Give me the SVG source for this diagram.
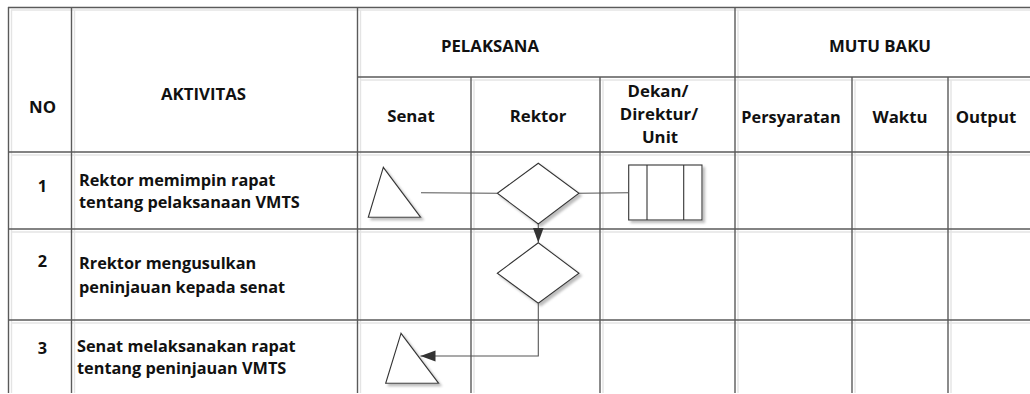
<svg xmlns="http://www.w3.org/2000/svg" width="1030" height="394" viewBox="0 0 1030 394">
<style>
.bg{fill:#ffffff}
.grid line{stroke:#5a5a5a;stroke-width:1.4}
.shade line{stroke:#e4e4e4;stroke-width:1.4}
.t{font-family:"Open Sans","Liberation Sans",sans-serif;font-weight:bold;font-size:16.3px;fill:#111}
.h{font-size:16.8px}
.c{text-anchor:middle}
.shape{fill:#ffffff;stroke:#333;stroke-width:1.1;filter:url(#sh)}
.inner{fill:none;stroke:#333;stroke-width:1.1}
.conn{fill:none;stroke:#555;stroke-width:1.1}
</style>
<defs>
<filter id="sh" x="-20%" y="-20%" width="150%" height="150%">
<feDropShadow dx="2.5" dy="2.5" stdDeviation="0.8" flood-color="#bdbdbd" flood-opacity="1"/>
</filter>
<marker id="ah" markerUnits="userSpaceOnUse" markerWidth="16" markerHeight="12" refX="15" refY="6" orient="auto">
<path d="M0,0.5 L15,6 L0,11.5 z" fill="#333"/>
</marker>
</defs>
<rect class="bg" x="0" y="0" width="1030" height="394"/>

<g id="table-shade" class="shade">
<line x1="11" y1="10" x2="1030" y2="10"/>
<line x1="360" y1="80" x2="1030" y2="80"/>
<line x1="11" y1="155" x2="1030" y2="155"/>
<line x1="11" y1="232" x2="1030" y2="232"/>
<line x1="11" y1="323" x2="1030" y2="323"/>
<line x1="11.5" y1="10" x2="11.5" y2="393"/>
<line x1="74.5" y1="10" x2="74.5" y2="393"/>
<line x1="360.5" y1="10" x2="360.5" y2="393"/>
<line x1="474" y1="80" x2="474" y2="393"/>
<line x1="603" y1="80" x2="603" y2="393"/>
<line x1="738" y1="10" x2="738" y2="393"/>
<line x1="855" y1="80" x2="855" y2="393"/>
<line x1="951" y1="80" x2="951" y2="393"/>
</g>

<g id="table-grid" class="grid">
<line x1="8" y1="7.5" x2="1030" y2="7.5"/>
<line x1="357.5" y1="77" x2="1030" y2="77"/>
<line x1="8" y1="152" x2="1030" y2="152"/>
<line x1="8" y1="229" x2="1030" y2="229"/>
<line x1="8" y1="320" x2="1030" y2="320"/>
<line x1="8.5" y1="7" x2="8.5" y2="393"/>
<line x1="71.5" y1="7" x2="71.5" y2="393"/>
<line x1="357.5" y1="7" x2="357.5" y2="393"/>
<line x1="471" y1="77" x2="471" y2="393"/>
<line x1="600" y1="77" x2="600" y2="393"/>
<line x1="735" y1="7" x2="735" y2="393"/>
<line x1="852" y1="77" x2="852" y2="393"/>
<line x1="948" y1="77" x2="948" y2="393"/>
</g>

<g id="headers">
<text class="t h c" x="42.5" y="113">NO</text>
<text class="t h c" x="203.5" y="100">AKTIVITAS</text>
<text class="t h c" x="490" y="52">PELAKSANA</text>
<text class="t h c" x="880" y="52">MUTU BAKU</text>
<text class="t h c" x="411" y="122">Senat</text>
<text class="t h c" x="538" y="122">Rektor</text>
<text class="t h c" x="658" y="97">Dekan/</text>
<text class="t h c" x="659" y="120">Direktur/</text>
<text class="t h c" x="660" y="143">Unit</text>
<text class="t c" x="791" y="123">Persyaratan</text>
<text class="t h c" x="900" y="123">Waktu</text>
<text class="t h c" x="986" y="123">Output</text>
</g>

<g id="rows">
<text class="t c" x="42.5" y="192">1</text>
<text class="t" x="79" y="186">Rektor memimpin rapat</text>
<text class="t" x="79" y="208">tentang pelaksanaan VMTS</text>
<text class="t c" x="42.5" y="267">2</text>
<text class="t" x="79" y="269">Rrektor mengusulkan</text>
<text class="t" x="79" y="293">peninjauan kepada senat</text>
<text class="t c" x="42.5" y="354">3</text>
<text class="t" x="77" y="352">Senat melaksanakan rapat</text>
<text class="t" x="77" y="374">tentang peninjauan VMTS</text>
</g>

<g id="node-triangle-1">
<polygon class="shape" points="383.3,167.3 368.3,217.3 420.7,217.3"/>
</g>
<g id="node-diamond-1">
<polygon class="shape" points="538.3,163.3 579,193.3 538.3,224 497.3,193.3"/>
</g>
<g id="node-process-1">
<rect class="shape" x="628.7" y="165" width="73.3" height="55"/>
<line class="inner" x1="647" y1="165" x2="647" y2="220"/>
<line class="inner" x1="683.7" y1="165" x2="683.7" y2="220"/>
</g>
<g id="node-diamond-2">
<polygon class="shape" points="538.3,242.7 579,273.3 538.3,303.3 497.3,273.3"/>
</g>
<g id="node-triangle-2">
<polygon class="shape" points="401,333.3 385.7,383.3 438.7,383.3"/>
</g>

<g id="connectors">
<line class="conn" x1="421" y1="192.8" x2="497.3" y2="193.3"/>
<line class="conn" x1="579" y1="193.3" x2="628.7" y2="192.8"/>
<line class="conn" x1="538.3" y1="224" x2="538.3" y2="242.5" marker-end="url(#ah)"/>
<polyline class="conn" points="538.3,303.3 538.3,356 420.5,356" marker-end="url(#ah)"/>
</g>
</svg>
